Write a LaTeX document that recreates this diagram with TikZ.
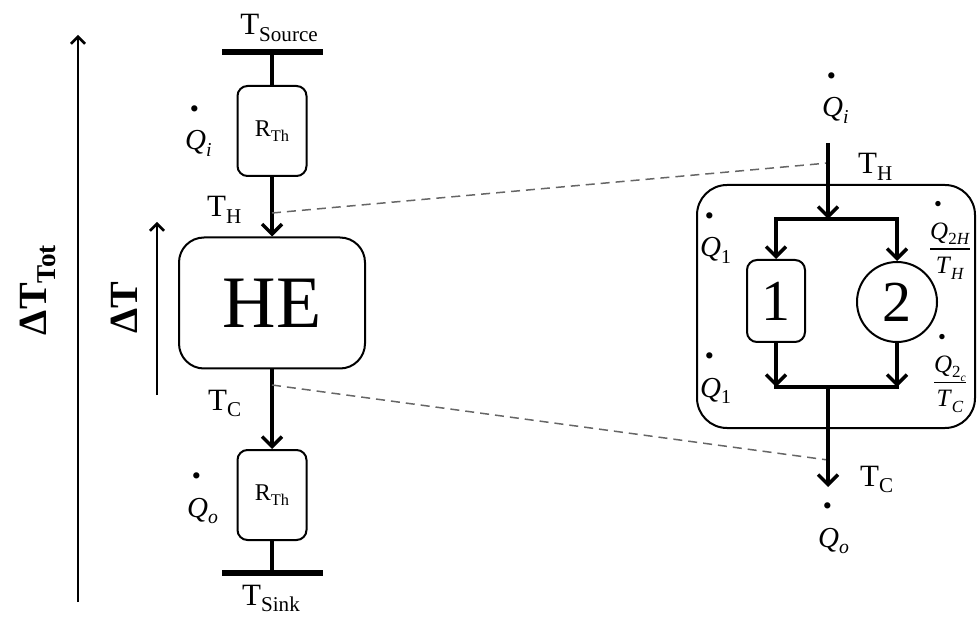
\documentclass[tikz,border=0pt]{standalone}
\usepackage{fontspec}
\setmainfont{Liberation Serif}
\usepackage{graphicx}
\usetikzlibrary{arrows.meta}

% lowered, smaller text for indices
\newcommand{\dn}[1]{\raisebox{-0.22em}{\scalebox{0.68}{#1}}}
% heat flow symbol with its dot
\newcommand{\Qd}[1]{\rlap{\hspace{0.16em}\raisebox{1.12em}{\scalebox{0.9}{\textbullet}}}\textit{Q}\dn{#1}}
% stacked fraction
\newcommand{\qfrac}[2]{{\setlength{\arrayrulewidth}{1.6pt}\begin{tabular}{@{}c@{}}#1\\[0pt]\hline\rule{0pt}{0.95em}#2\end{tabular}}}

\tikzset{
	txt/.style={inner sep=0pt, font=\fontsize{31}{36}\selectfont},
	qtxt/.style={inner sep=0pt, font=\fontsize{29}{34}\selectfont},
	ftxt/.style={inner sep=0pt, font=\fontsize{25}{30}\selectfont},
	dtxt/.style={inner sep=0pt, rotate=90, font=\bfseries\fontsize{40}{46}\selectfont},
	rbox/.style={draw, line width=2pt, rounded corners=10pt, minimum width=69pt, minimum height=90pt, inner sep=0pt, font=\fontsize{24}{28}\selectfont},
	plate/.style={fill=black, minimum width=101pt, minimum height=6pt, inner sep=0pt},
	wire/.style={line width=3.5pt, line cap=rect},
	flow/.style={line width=3.5pt, -{Straight Barb[length=10pt,width=20pt]}},
	rise/.style={line width=2.5pt, -{Straight Barb[length=7pt,width=14pt]}},
	guide/.style={black!60, line width=1.5pt, dash pattern=on 9pt off 6pt},
}

\begin{document}
\begin{tikzpicture}[x=1pt,y=-1pt]
	
	\useasboundingbox (0,0) rectangle (977,617);
	
	% ---- (A) parameters ----
	\def\xl{272}   % left column
	\def\xr{828}   % right column
	\def\xa{776}   % branch 1
	\def\xb{897}   % branch 2
	
	% ---- (B) temperature spans ----
	\coordinate (totlo) at (78,602);
	\coordinate (tothi) at (78,35);
	\draw[rise] (totlo) -- (tothi);
	\node[dtxt] (dtot) at (38,290) {ΔT\dn{Tot}};
	
	\coordinate (dlo) at (157,395);
	\coordinate (dhi) at (157,222);
	\draw[rise] (dlo) -- (dhi);
	\node[dtxt] (dt) at (124,308) {ΔT};
	
	% ---- (C) left chain: source, resistance, engine, resistance, sink ----
	\node[plate] (src) at (\xl,52) {};
	\node[txt, anchor=base] (tsrc) at (279,35) {T\dn{Source}};
	\node[rbox] (rth1) at (\xl,131) {R\dn{Th}};
	\node[draw, line width=2pt, rounded corners=25pt, minimum width=186pt, minimum height=131pt,
	      inner sep=0pt, font=\fontsize{74}{80}\selectfont] (he) at (\xl,303) {HE};
	\node[rbox] (rth2) at (\xl,495) {R\dn{Th}};
	\node[plate] (sink) at (\xl,573) {};
	\node[txt, anchor=base] (tsink) at (271,605) {T\dn{Sink}};
	
	\draw[wire] (src) -- (rth1);
	\draw[flow] (rth1) -- (he);
	\draw[flow] (he) -- (rth2);
	\draw[wire] (rth2) -- (sink);
	
	\node[qtxt, anchor=base west] (qi1) at (185,150) {\Qd{\textit{i}}};
	\node[txt, anchor=base west] (th1) at (207,217) {T\dn{H}};
	\node[txt, anchor=base west] (tc1) at (208,410) {T\dn{C}};
	\node[qtxt, anchor=base west] (qo1) at (187,517) {\Qd{\textit{o}}};
	
	% ---- (D) zoom lines ----
	\coordinate (tapH) at (\xl,213);
	\coordinate (tapC) at (\xl,385);
	\coordinate (tapHr) at (\xr,163);
	\coordinate (tapCr) at (\xr,460);
	\draw[guide] (tapH) -- (tapHr);
	\draw[guide] (tapC) -- (tapCr);
	
	% ---- (E) right: inside the engine ----
	\node[draw, line width=2pt, rounded corners=30pt, minimum width=278pt, minimum height=243pt] (hebig) at (836,306.5) {};
	\node[draw, line width=2pt, rounded corners=10pt, minimum width=58pt, minimum height=82pt,
	      inner sep=0pt, font=\fontsize{58}{64}\selectfont] (box1) at (\xa,301) {1};
	\node[draw, circle, line width=2pt, minimum size=80pt, inner sep=0pt,
	      font=\fontsize{58}{64}\selectfont] (circ2) at (\xb,302) {2};
	
	\coordinate (qin) at (\xr,143);
	\coordinate (btop) at (\xr,219);
	\coordinate (bl) at (\xa,387);
	\coordinate (br) at (\xb,387);
	\coordinate (bbot) at (\xr,387);
	\coordinate (qout) at (\xr,487);
	
	\draw[flow] (qin) -- (btop);
	\draw[flow] (btop) -| (box1.north);
	\draw[flow] (btop) -| (circ2.north);
	\draw[flow] (box1) -- (bl);
	\draw[flow] (circ2) -- (br);
	\draw[wire] (bl) -- (br);
	\draw[flow] (bbot) -- (qout);
	
	\node[qtxt, anchor=base west] (qi2) at (822,117) {\Qd{\textit{i}}};
	\node[txt, anchor=base west] (th2) at (858,174) {T\dn{H}};
	\node[txt, anchor=base west] (tc2) at (860,486) {T\dn{C}};
	\node[qtxt, anchor=base west] (qo2) at (818,547) {\Qd{\textit{o}}};
	\node[qtxt, anchor=base west] (q1a) at (700,257) {\Qd{1}};
	\node[qtxt, anchor=base west] (q1b) at (700,397) {\Qd{1}};
	\node[ftxt] (f2h) at (950,242) {\qfrac{\Qd{2\textit{H}}}{\textit{T}\dn{\textit{H}}}};
	\node[ftxt] (f2c) at (950,375) {\qfrac{\Qd{2\dn{\textit{c}}}}{\textit{T}\dn{\textit{C}}}};
	
\end{tikzpicture}
\end{document}
